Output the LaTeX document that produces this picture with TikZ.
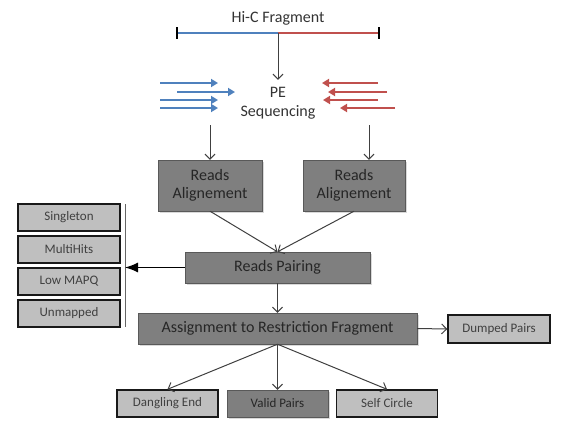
\documentclass[tikz,border=0pt]{standalone}
\usepackage{fontspec}
\setmainfont{Carlito}
\usetikzlibrary{arrows.meta,shadows}

\definecolor{fragblue}{HTML}{4F81BD}
\definecolor{fragred}{HTML}{C0504D}
\definecolor{darkfill}{HTML}{7F7F7F}
\definecolor{lightfill}{HTML}{BFBFBF}

\begin{document}
\begin{tikzpicture}[x=1pt, y=-1pt,
    darkbox/.style={draw=black!65, fill=darkfill, text=black!85, inner sep=0pt,
        font=\fontsize{16}{18}\selectfont,
        drop shadow={shadow xshift=1.5pt, shadow yshift=-1.5pt, opacity=0.3}},
    lightbox/.style={draw=black!90, line width=1.4pt, fill=lightfill, text=black!75,
        inner sep=0pt, minimum width=102pt, minimum height=27pt,
        font=\fontsize{13}{15}\selectfont},
    flow/.style={draw=black!75, line width=1pt, -{Straight Barb[length=5pt,width=10pt]}},
    readarrow/.style={line width=2.8pt, -{Triangle[length=7pt,width=8pt]}}]
    \useasboundingbox (0,0) rectangle (574,437);

    % fragment on top
    \node[font=\fontsize{16}{18}\selectfont, text=black!80] (title) at (278,18) {Hi-C Fragment};
    \coordinate (fragL) at (177,33);
    \coordinate (fragM) at (278,33);
    \coordinate (fragR) at (379,33);
    \draw[line width=2.6pt, fragblue] (fragL) -- (fragM);
    \draw[line width=2.6pt, fragred] (fragM) -- (fragR);
    \draw[line width=1.5pt] ([yshift=6pt]fragL) -- ([yshift=-6pt]fragL);
    \draw[line width=1.5pt] ([yshift=6pt]fragR) -- ([yshift=-6pt]fragR);

    % sequencing
    \node[align=center, inner sep=0pt, text=black!80, font=\fontsize{16}{19}\selectfont] (seq) at (278,103) {PE\\Sequencing};
    \draw[flow] (fragM) -- ([yshift=7pt]seq.north);

    % reads, blue forward and red reverse
    \foreach \y/\a/\b in {83/160/218, 92/177/235, 100/160/218, 108/160/218}
        \draw[readarrow, fragblue] (\a,\y) -- (\b,\y);
    \foreach \y/\a/\b in {83/378/322, 92/387/328, 100/378/323, 108/395/340}
        \draw[readarrow, fragred] (\a,\y) -- (\b,\y);

    % alignment of both ends
    \node[darkbox, minimum width=104pt, minimum height=51pt, align=center] (alignL) at (210,185.5) {Reads\\Alignement};
    \node[darkbox, minimum width=102pt, minimum height=51pt, align=center] (alignR) at (354,185.5) {Reads\\Alignement};
    \coordinate (seqL) at (210,125);
    \coordinate (seqR) at (369,125);
    \draw[flow] (seqL) -- (alignL.north);
    \draw[flow] (seqR) -- (seqR |- alignR.north);

    % pairing
    \node[darkbox, minimum width=185pt, minimum height=31pt] (pair) at (277.5,267.5) {Reads Pairing};
    \draw[flow] (alignL.south) -- (pair.north);
    \draw[flow] (alignR.south) -- (pair.north);

    % rejected reads
    \node[lightbox] (singleton) at (69,217.5) {Singleton};
    \node[lightbox] (multihits) at (69,249.5) {MultiHits};
    \node[lightbox] (lowmapq) at (69,281.5) {Low MAPQ};
    \node[lightbox] (unmapped) at (69,313.5) {Unmapped};
    \coordinate (bartop) at (125,204);
    \coordinate (barbot) at (125,327);
    \draw[black!60, line width=0.8pt] (bartop) -- (barbot);
    \draw[line width=1.1pt, -{Latex[length=13pt,width=10pt]}] (pair.west) -- (pair.west -| bartop);

    % restriction fragments
    \node[darkbox, minimum width=279pt, minimum height=31pt] (assign) at (277.5,328.5) {Assignment to Restriction Fragment};
    \draw[flow] (pair.south) -- (assign.north);
    \node[lightbox, minimum height=28pt] (dumped) at (499,329) {Dumped Pairs};
    \draw[flow] (assign.east) -- (dumped.west);

    % final classes
    \node[lightbox, minimum width=101pt] (dangling) at (167.5,403.5) {Dangling End};
    \node[darkbox, minimum width=101pt, minimum height=27pt, font=\fontsize{13}{15}\selectfont] (valid) at (277.5,403.5) {Valid Pairs};
    \node[lightbox, minimum width=101pt] (selfcircle) at (387,403.5) {Self Circle};
    \draw[flow] (assign.south) -- (dangling.north);
    \draw[flow] (assign.south) -- (valid.north);
    \draw[flow] (assign.south) -- (selfcircle.north);
\end{tikzpicture}
\end{document}
